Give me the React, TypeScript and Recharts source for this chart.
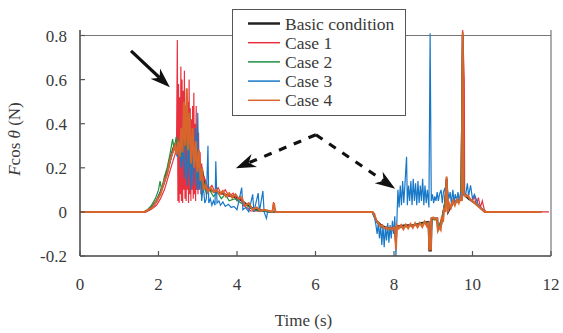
import React from 'react';
import { LineChart, Line, XAxis, YAxis, ReferenceLine, Legend } from 'recharts';

// time (s), F cos(theta) (N)
const basicCondition: [number, number][] = [
  [0, 0], [1.65, 0], [1.75, 0.01], [1.85, 0.025], [1.95, 0.05], [2.05, 0.09], [2.15, 0.14], [2.25, 0.2],
  [2.33, 0.26], [2.4, 0.3], [2.45, 0.27], [2.5, 0.31], [2.55, 0.26], [2.6, 0.36], [2.65, 0.28], [2.7, 0.45],
  [2.75, 0.27], [2.8, 0.4], [2.85, 0.22], [2.9, 0.33], [2.95, 0.2], [3.0, 0.28], [3.05, 0.16], [3.1, 0.2],
  [3.2, 0.11], [3.3, 0.1], [3.45, 0.09], [3.6, 0.085], [3.75, 0.075], [3.9, 0.07], [4.05, 0.06], [4.2, 0.04],
  [4.35, 0.02], [4.5, 0.01], [4.7, 0.005], [4.9, 0], [7.45, 0], [7.55, -0.04], [7.7, -0.065], [7.9, -0.075],
  [8.05, -0.07], [8.1, -0.065], [8.3, -0.06], [8.5, -0.06], [8.7, -0.05], [8.88, -0.045], [8.9, -0.175],
  [8.94, -0.175], [8.96, -0.03], [9.1, -0.03], [9.12, -0.08], [9.2, -0.06], [9.3, 0.04], [9.34, 0.15],
  [9.38, 0.0], [9.5, 0.04], [9.65, 0.05], [9.72, 0.06], [9.75, 0.8], [9.78, 0.08], [9.9, 0.06], [10.1, 0.035],
  [10.32, 0], [11.75, 0],
];

const case1: [number, number][] = [
  [0, 0], [1.68, 0], [1.8, 0.01], [1.95, 0.03], [2.05, 0.06], [2.15, 0.1], [2.25, 0.16], [2.35, 0.22],
  [2.42, 0.26], [2.46, 0.3], [2.48, 0.78], [2.495, 0.05], [2.51, 0.58], [2.525, 0.04], [2.54, 0.52],
  [2.555, 0.08], [2.57, 0.66], [2.585, 0.05], [2.6, 0.6], [2.615, 0.04], [2.63, 0.55], [2.645, 0.1],
  [2.66, 0.64], [2.675, 0.06], [2.69, 0.48], [2.705, 0.05], [2.72, 0.56], [2.735, 0.1], [2.75, 0.5],
  [2.765, 0.04], [2.78, 0.6], [2.795, 0.08], [2.81, 0.47], [2.825, 0.05], [2.84, 0.42], [2.855, 0.1],
  [2.87, 0.48], [2.885, 0.06], [2.9, 0.54], [2.915, 0.08], [2.93, 0.4], [2.945, 0.05], [2.96, 0.48],
  [2.975, 0.1], [2.99, 0.34], [3.005, 0.08], [3.02, 0.36], [3.04, 0.1], [3.06, 0.27], [3.08, 0.08],
  [3.1, 0.22], [3.13, 0.1], [3.16, 0.16], [3.2, 0.14], [3.28, 0.1], [3.36, 0.12], [3.44, 0.09], [3.52, 0.11],
  [3.6, 0.08], [3.7, 0.1], [3.8, 0.07], [3.9, 0.085], [4.0, 0.05], [4.08, 0.07], [4.15, 0.03], [4.25, 0.02],
  [4.35, 0.005], [4.9, 0], [4.93, 0.045], [4.97, 0], [7.45, 0], [7.55, -0.045], [7.7, -0.07], [7.85, -0.078],
  [8.0, -0.072], [8.05, -0.16], [8.08, -0.065], [8.3, -0.065], [8.5, -0.06], [8.7, -0.055], [8.88, -0.05],
  [8.9, -0.17], [8.94, -0.17], [8.96, -0.03], [9.1, -0.03], [9.12, -0.08], [9.22, -0.025], [9.3, 0.04],
  [9.34, 0.15], [9.37, 0.0], [9.5, 0.045], [9.7, 0.06], [9.74, 0.6], [9.75, 0.825], [9.79, 0.6], [9.8, 0.085],
  [9.9, 0.065], [10.0, 0.05], [10.05, 0.07], [10.1, 0.03], [10.15, 0.065], [10.2, 0.02], [10.25, 0.05],
  [10.3, 0.01], [10.35, 0], [11.95, 0],
];

const case2: [number, number][] = [
  [0, 0], [1.62, 0], [1.72, 0.01], [1.82, 0.03], [1.92, 0.06], [2.0, 0.1], [2.04, 0.14], [2.08, 0.1],
  [2.15, 0.16], [2.22, 0.2], [2.3, 0.27], [2.36, 0.33], [2.4, 0.28], [2.45, 0.34], [2.5, 0.27], [2.55, 0.33],
  [2.6, 0.24], [2.65, 0.36], [2.7, 0.25], [2.75, 0.38], [2.8, 0.2], [2.85, 0.32], [2.9, 0.18], [2.95, 0.28],
  [3.0, 0.15], [3.05, 0.22], [3.1, 0.1], [3.15, 0.14], [3.22, 0.08], [3.3, 0.1], [3.4, 0.07], [3.5, 0.09],
  [3.6, 0.06], [3.7, 0.08], [3.8, 0.05], [3.95, 0.06], [4.1, 0.04], [4.25, 0.03], [4.4, 0.01], [4.6, 0.005],
  [4.8, 0], [7.45, 0], [7.55, -0.045], [7.7, -0.07], [7.9, -0.08], [8.05, -0.075], [8.2, -0.07],
  [8.4, -0.065], [8.6, -0.055], [8.8, -0.05], [8.88, -0.05], [8.9, -0.16], [8.94, -0.16], [8.96, -0.035],
  [9.1, -0.035], [9.12, -0.075], [9.22, -0.03], [9.3, 0.05], [9.34, 0.14], [9.37, 0.01], [9.5, 0.04],
  [9.7, 0.055], [9.75, 0.79], [9.78, 0.08], [9.9, 0.065], [10.1, 0.035], [10.32, 0], [11.75, 0],
];

const case3: [number, number][] = [
  [0, 0], [1.65, 0], [1.8, 0.015], [1.95, 0.05], [2.05, 0.09], [2.15, 0.13], [2.25, 0.2], [2.35, 0.26],
  [2.42, 0.3], [2.48, 0.25], [2.53, 0.3], [2.58, 0.2], [2.62, 0.33], [2.66, 0.15], [2.7, 0.3], [2.74, 0.12],
  [2.78, 0.35], [2.82, 0.1], [2.86, 0.28], [2.9, 0.12], [2.95, 0.38], [2.98, 0.1], [3.0, 0.45], [3.03, 0.1],
  [3.07, 0.2], [3.1, 0.05], [3.14, 0.12], [3.18, 0.04], [3.22, 0.06], [3.26, 0.3], [3.28, 0.04], [3.32, 0.06],
  [3.36, 0.03], [3.4, 0.05], [3.44, 0.03], [3.46, 0.23], [3.49, 0.04], [3.54, 0.05], [3.58, 0.03], [3.64, 0.045],
  [3.7, 0.025], [3.78, 0.035], [3.85, 0.02], [3.92, 0.025], [4.0, 0.01], [4.12, 0.11], [4.15, 0.01],
  [4.22, 0.02], [4.3, 0.0], [4.4, 0.08], [4.43, 0.0], [4.54, 0.085], [4.57, 0.0], [4.66, 0.095], [4.69, 0.0],
  [4.75, -0.03], [4.78, 0], [7.45, 0], [7.5, -0.02], [7.54, -0.06], [7.57, -0.1], [7.6, -0.05], [7.63, -0.12],
  [7.66, -0.06], [7.69, -0.15], [7.72, -0.06], [7.75, -0.16], [7.78, -0.07], [7.81, -0.13], [7.84, -0.05],
  [7.87, -0.14], [7.9, -0.06], [7.93, -0.12], [7.96, -0.04], [7.99, -0.1], [8.02, -0.02], [8.05, -0.2],
  [8.08, 0.0], [8.1, 0.1], [8.13, 0.02], [8.16, 0.12], [8.19, 0.03], [8.22, 0.14], [8.25, 0.04], [8.28, 0.13],
  [8.32, 0.25], [8.34, 0.03], [8.37, 0.12], [8.4, 0.05], [8.43, 0.14], [8.46, 0.03], [8.49, 0.15], [8.52, 0.05],
  [8.55, 0.13], [8.58, 0.03], [8.61, 0.14], [8.64, 0.04], [8.67, 0.12], [8.7, 0.05], [8.73, 0.15], [8.76, 0.03],
  [8.79, 0.12], [8.82, 0.04], [8.85, 0.1], [8.89, 0.02], [8.92, 0.81], [8.95, 0.05], [8.98, 0.08],
  [9.01, 0.04], [9.04, 0.07], [9.07, 0.05], [9.1, 0.09], [9.13, 0.05], [9.16, 0.08], [9.2, 0.1], [9.23, 0.04],
  [9.26, 0.09], [9.3, 0.11], [9.33, 0.05], [9.36, 0.1], [9.4, 0.06], [9.43, 0.09], [9.46, 0.04], [9.5, 0.1],
  [9.53, 0.04], [9.56, 0.08], [9.6, 0.05], [9.63, 0.09], [9.66, 0.05], [9.7, 0.09], [9.74, 0.06], [9.78, 0.1],
  [9.82, 0.07], [9.87, 0.13], [9.9, 0.07], [9.95, 0.12], [10.0, 0.06], [10.05, 0.08], [10.15, 0.03],
  [10.25, 0.01], [10.32, 0], [11.75, 0],
];

const case4: [number, number][] = [
  [0, 0], [1.65, 0], [1.75, 0.01], [1.85, 0.02], [1.95, 0.05], [2.05, 0.08], [2.15, 0.14], [2.22, 0.17],
  [2.3, 0.24], [2.36, 0.27], [2.42, 0.3], [2.46, 0.26], [2.5, 0.32], [2.54, 0.25], [2.58, 0.38], [2.61, 0.27],
  [2.65, 0.5], [2.68, 0.3], [2.72, 0.56], [2.75, 0.28], [2.79, 0.45], [2.83, 0.22], [2.87, 0.38], [2.91, 0.2],
  [2.95, 0.32], [2.99, 0.18], [3.03, 0.28], [3.07, 0.14], [3.11, 0.2], [3.15, 0.1], [3.2, 0.12], [3.26, 0.09],
  [3.32, 0.11], [3.4, 0.09], [3.48, 0.1], [3.56, 0.08], [3.64, 0.095], [3.72, 0.07], [3.8, 0.085],
  [3.88, 0.065], [3.96, 0.08], [4.04, 0.06], [4.12, 0.065], [4.2, 0.03], [4.3, 0.04], [4.4, 0.01], [4.5, 0.02],
  [4.6, 0.005], [4.7, 0.01], [4.8, 0.005], [4.9, 0.0], [4.94, 0.04], [4.98, 0.0], [7.45, 0], [7.5, -0.01],
  [7.55, -0.04], [7.6, -0.05], [7.65, -0.065], [7.7, -0.06], [7.75, -0.075], [7.8, -0.068], [7.85, -0.08],
  [7.9, -0.07], [7.95, -0.082], [8.0, -0.07], [8.03, -0.075], [8.05, -0.17], [8.07, -0.06], [8.12, -0.075],
  [8.18, -0.06], [8.24, -0.078], [8.3, -0.058], [8.36, -0.074], [8.42, -0.055], [8.48, -0.072], [8.54, -0.052],
  [8.6, -0.07], [8.66, -0.05], [8.72, -0.068], [8.78, -0.045], [8.84, -0.065], [8.88, -0.045], [8.9, -0.17],
  [8.94, -0.17], [8.95, -0.03], [9.0, -0.025], [9.05, -0.035], [9.1, -0.03], [9.12, -0.085], [9.16, -0.07],
  [9.19, -0.08], [9.22, -0.02], [9.25, -0.045], [9.28, 0.02], [9.31, 0.0], [9.34, 0.16], [9.37, 0.0],
  [9.4, 0.04], [9.45, 0.02], [9.5, 0.05], [9.55, 0.03], [9.6, 0.055], [9.65, 0.04], [9.7, 0.065], [9.73, 0.05],
  [9.75, 0.815], [9.77, 0.09], [9.82, 0.07], [9.88, 0.075], [9.95, 0.055], [10.05, 0.04], [10.15, 0.025],
  [10.25, 0.01], [10.32, 0], [11.75, 0],
];

const xTicks = [0, 2, 4, 6, 8, 10, 12];
const yTicks = [-0.2, 0, 0.2, 0.4, 0.6, 0.8];

const seriesNames = ['Basic condition', 'Case 1', 'Case 2', 'Case 3', 'Case 4'];
const seriesColors = ['#222222', '#e8313f', '#1f8f40', '#1878c8', '#d8652b'];
const seriesWidths = [2, 1.2, 1.2, 1.2, 2];
const seriesData = [basicCondition, case1, case2, case3, case4].map((pts) =>
  pts.map(([t, v]) => ({ t, v }))
);

// arrows, in data coordinates
const solidArrow = [{ x: 1.3, y: 0.73 }, { x: 2.29, y: 0.565 }];
const dashedLeft = [{ x: 6.01, y: 0.35 }, { x: 3.97, y: 0.198 }];
const dashedRight = [{ x: 6.01, y: 0.35 }, { x: 8.03, y: 0.105 }];

const FONT = '"Liberation Serif", "Times New Roman", serif';
const TEXT = '#3a3a3a';

const arrowShape = (dashed: boolean) => (p: any) => {
  const { x1, y1, x2, y2 } = p;
  const dx = x2 - x1;
  const dy = y2 - y1;
  const len = Math.sqrt(dx * dx + dy * dy) || 1;
  const ux = dx / len;
  const uy = dy / len;
  const L = 20;
  const W = 7;
  const bx = x2 - ux * L;
  const by = y2 - uy * L;
  const nx = x2 - ux * L * 0.7;
  const ny = y2 - uy * L * 0.7;
  const pts = `${x2},${y2} ${bx - uy * W},${by + ux * W} ${nx},${ny} ${bx + uy * W},${by - ux * W}`;
  return (
    <g>
      <line x1={x1} y1={y1} x2={nx} y2={ny} stroke="#111" strokeWidth={3.2}
        strokeDasharray={dashed ? '8 8' : undefined} />
      <polygon points={pts} fill="#111" />
    </g>
  );
};

const XTick = (props: any) => {
  const { x, y, payload } = props;
  return (
    <g>
      <line x1={x} y1={y} x2={x} y2={y - 5} stroke="#555" strokeWidth={1.2} />
      <text x={x} y={y + 34} textAnchor="middle" fontSize={17} fill={TEXT} fontFamily={FONT}>
        {payload.value}
      </text>
    </g>
  );
};

const YTick = (props: any) => {
  const { x, y, payload } = props;
  return (
    <g>
      <line x1={x} y1={y} x2={x + 5} y2={y} stroke="#555" strokeWidth={1.2} />
      <text x={x - 13} y={y + 6} textAnchor="end" fontSize={17} fill={TEXT} fontFamily={FONT}>
        {String(payload.value)}
      </text>
    </g>
  );
};

const LegendBox = () => (
  <svg width={174} height={107} style={{ display: 'block' }}>
    <rect x={0.5} y={0.5} width={173} height={106} fill="#fff" stroke="#555" strokeWidth={1} />
    {seriesNames.map((name, i) => {
      const cy = 14.5 + i * 19.2;
      return (
        <g key={name}>
          <line x1={16} y1={cy} x2={48} y2={cy} stroke={seriesColors[i]}
            strokeWidth={i === 0 ? 2.5 : 1.5} />
          <text x={53} y={cy + 6} fontSize={17.5} fill={TEXT} fontFamily={FONT}>{name}</text>
        </g>
      );
    })}
  </svg>
);

export default function App() {
  return (
    <div style={{ width: 563, height: 333, background: '#fff', position: 'relative' }}>
      <style>{'body{margin:0}'}</style>
      <LineChart width={563} height={333} margin={{ top: 30, right: 12, bottom: 47, left: 20 }}>
        <XAxis
          type="number"
          dataKey="t"
          domain={[0, 12]}
          ticks={xTicks}
          height={30}
          tickSize={0}
          tickMargin={0}
          tickLine={false}
          axisLine={{ stroke: '#444', strokeWidth: 1.5 }}
          tick={<XTick />}
          label={{
            content: (p: any) => (
              <text x={p.viewBox.x + p.viewBox.width / 2 - 12} y={p.viewBox.y + 70}
                textAnchor="middle" fontSize={17} fill={TEXT} fontFamily={FONT}>
                Time (s)
              </text>
            ),
          }}
        />
        <YAxis
          type="number"
          domain={[-0.2, 0.8]}
          ticks={yTicks}
          width={60}
          tickSize={0}
          tickMargin={0}
          tickLine={false}
          axisLine={{ stroke: '#444', strokeWidth: 1.5 }}
          tick={<YTick />}
          label={{
            content: () => (
              <text x={20} y={139} transform="rotate(-90 20 139)" textAnchor="middle"
                fontSize={17} fill={TEXT} fontFamily={FONT}>
                <tspan fontStyle="italic">F</tspan>
                <tspan>cos </tspan>
                <tspan fontStyle="italic">θ</tspan>
                <tspan> (N)</tspan>
              </text>
            ),
          }}
        />
        <ReferenceLine y={0.8} stroke="#777" strokeWidth={1.2} />
        <ReferenceLine x={12} stroke="#777" strokeWidth={1.2} />
        {seriesNames.map((name, i) => (
          <Line
            key={name}
            name={name}
            data={seriesData[i]}
            dataKey="v"
            type="linear"
            stroke={seriesColors[i]}
            strokeWidth={seriesWidths[i]}
            dot={false}
            isAnimationActive={false}
          />
        ))}
        <ReferenceLine segment={solidArrow} ifOverflow="visible" shape={arrowShape(false)} />
        <ReferenceLine segment={dashedLeft} ifOverflow="visible" shape={arrowShape(true)} />
        <ReferenceLine segment={dashedRight} ifOverflow="visible" shape={arrowShape(true)} />
        <Legend
          layout="vertical"
          align="center"
          verticalAlign="middle"
          wrapperStyle={{ position: 'absolute', left: 232, top: 9, width: 174, height: 107 }}
          content={() => <LegendBox />}
        />
      </LineChart>
    </div>
  );
}
